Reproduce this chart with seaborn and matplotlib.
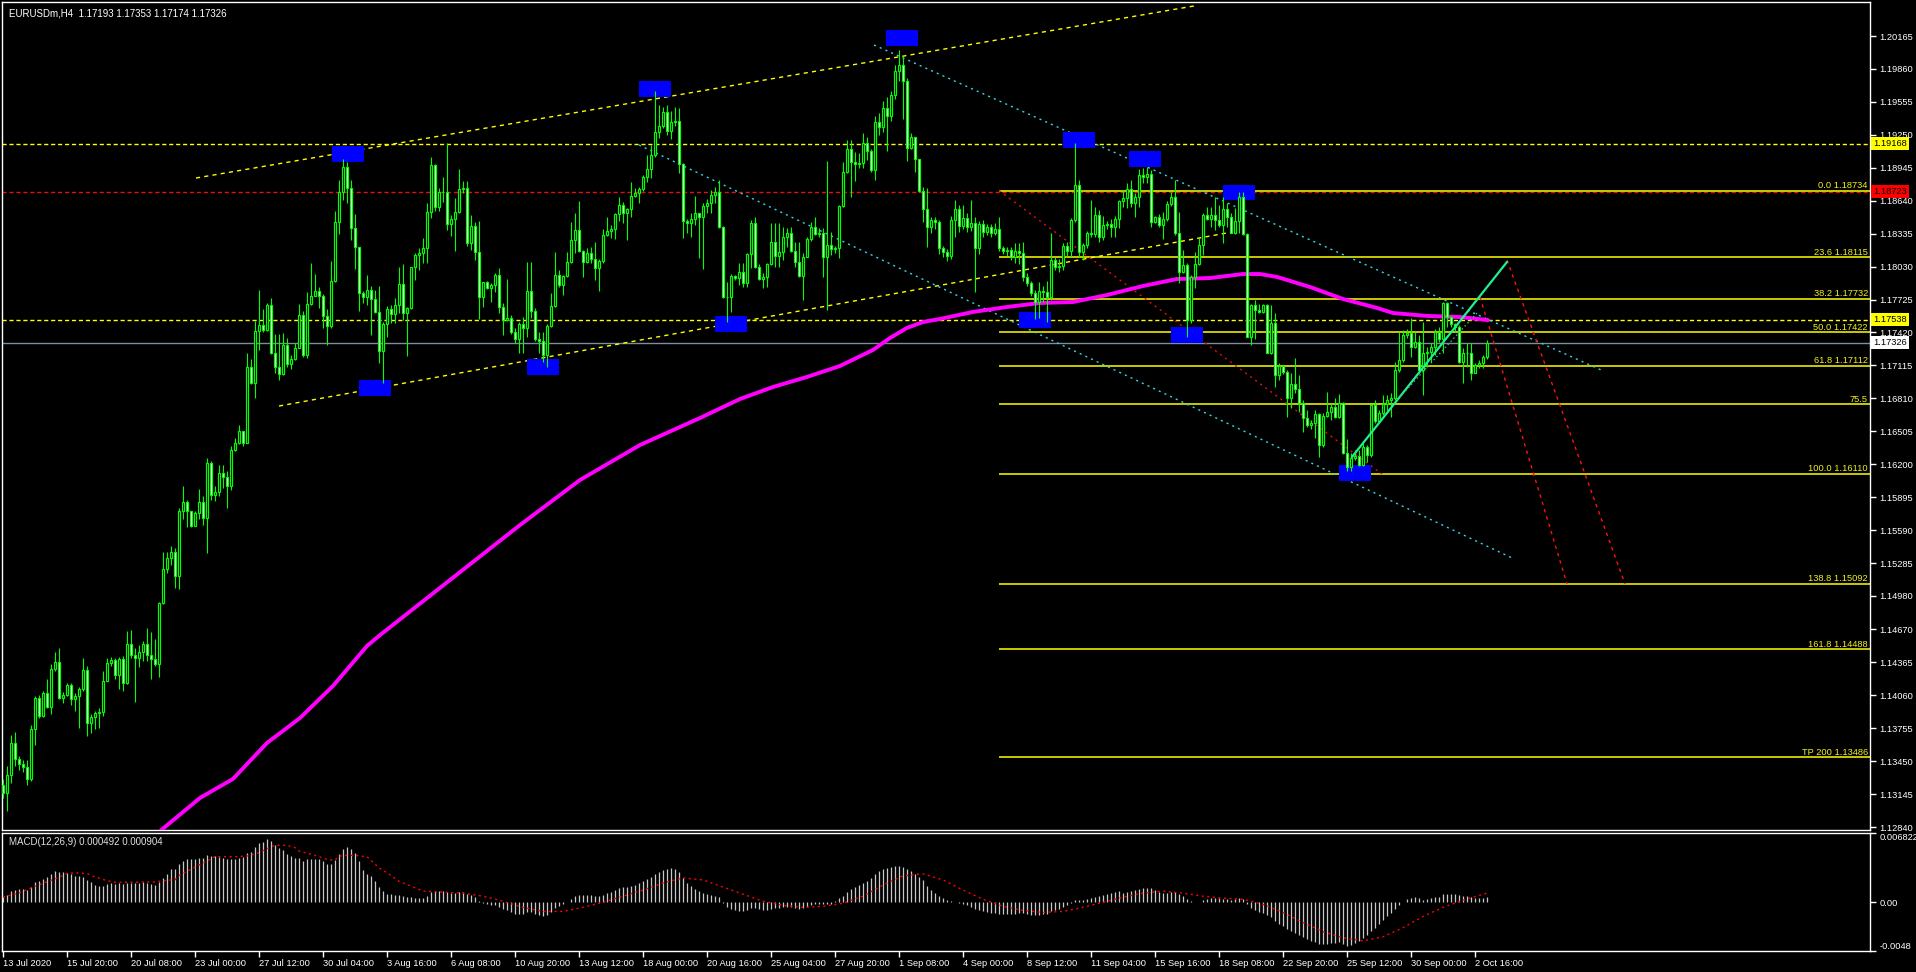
import numpy as np
import pandas as pd
import matplotlib
matplotlib.use('Agg')
import matplotlib.pyplot as plt
import matplotlib.transforms as mtrans
from matplotlib.patches import Rectangle
import seaborn as sns

sns.set_theme(style='dark')
plt.rcParams['font.family'] = ['Liberation Sans', 'DejaVu Sans']

# ---- data: prices in pips above 1.1000, one value per H4 bar ----
BASE = 1.1
first_open = 323.0
close = [
    315.3, 332.6, 361.5, 347.3, 342.7, 339.6, 328.8, 375.0, 403.9, 386.6,
    408.5, 395.0, 430.8, 436.6, 403.9, 406.6, 415.4, 402.7, 405.8, 411.6,
    429.7, 380.8, 385.8, 389.6, 390.4, 419.3, 435.8, 438.5, 425.0, 439.7,
    417.4, 453.9, 443.5, 440.5, 446.2, 453.9, 443.5, 439.7, 435.4, 491.3,
    523.2, 533.6, 538.6, 516.7, 576.4, 584.8, 576.4, 562.9, 575.2, 584.8,
    570.6, 621.4, 591.4, 594.5, 611.8, 607.9, 599.5, 633.0, 639.9, 650.3,
    639.5, 709.9, 695.3, 743.8, 749.2, 744.6, 767.7, 723.4, 709.9, 703.4,
    730.4, 713.0, 717.7, 728.0, 758.1, 721.5, 768.5, 776.2, 780.0, 776.2,
    757.3, 747.7, 790.0, 843.9, 872.4, 895.0, 875.5, 838.9, 821.6, 778.5,
    774.6, 781.2, 772.7, 760.8, 724.6, 749.9, 763.4, 759.1, 767.1, 786.6,
    760.4, 764.4, 802.3, 813.7, 815.9, 819.9, 853.9, 896.7, 858.5, 871.8,
    872.4, 842.1, 846.8, 853.2, 874.5, 875.5, 825.2, 840.6, 816.8, 774.5,
    788.7, 782.9, 785.7, 795.2, 765.3, 753.6, 755.1, 742.8, 735.7, 749.6,
    745.8, 780.4, 762.2, 735.7, 734.4, 721.2, 748.0, 766.5, 795.2, 785.9,
    794.3, 807.0, 827.6, 836.9, 817.7, 807.6, 815.9, 809.7, 801.4, 808.5,
    832.3, 836.0, 837.8, 851.7, 860.0, 852.3, 856.3, 868.4, 871.4, 874.5,
    885.6, 893.0, 906.3, 927.3, 933.2, 945.8, 928.8, 936.6, 937.5, 897.7,
    845.5, 843.0, 846.8, 852.9, 849.2, 859.1, 862.2, 869.3, 872.4, 840.0,
    774.5, 775.2, 794.3, 792.1, 797.7, 787.5, 814.4, 843.0, 802.3, 791.2,
    793.7, 805.4, 826.1, 812.8, 816.8, 830.1, 833.8, 817.7, 806.9, 794.6,
    812.2, 828.2, 839.9, 833.2, 833.8, 812.2, 823.0, 819.0, 820.5, 859.1,
    890.9, 911.9, 900.1, 897.7, 899.2, 917.1, 910.3, 892.4, 937.0, 932.5,
    950.0, 942.0, 962.0, 984.0, 990.0, 975.0, 912.5, 922.7, 902.3, 873.3,
    856.0, 839.3, 846.1, 844.6, 820.5, 816.8, 812.8, 846.1, 856.0, 840.6,
    847.7, 839.9, 843.0, 819.9, 842.4, 835.3, 839.9, 834.4, 837.5, 819.9,
    817.7, 818.3, 812.2, 817.7, 815.9, 793.7, 787.5, 778.2, 770.5, 780.7,
    779.8, 775.1, 809.1, 802.9, 803.5, 822.0, 817.4, 846.1, 878.2, 816.8,
    823.0, 833.8, 833.2, 850.7, 830.7, 841.5, 842.4, 840.0, 846.7, 864.0,
    866.2, 874.6, 861.6, 867.2, 888.0, 886.0, 889.0, 844.6, 849.3, 841.5,
    846.8, 861.0, 867.2, 833.8, 798.3, 804.5, 753.6, 793.7, 805.4, 823.0,
    850.8, 846.8, 850.8, 846.2, 841.5, 856.0, 849.3, 834.4, 845.6, 867.2,
    833.2, 738.2, 767.5, 763.0, 761.3, 767.5, 723.3, 751.1, 702.7, 711.0,
    705.8, 681.1, 694.3, 689.4, 677.1, 662.6, 656.4, 658.6, 666.6, 637.9,
    664.7, 668.7, 672.7, 664.1, 677.1, 630.1, 617.2, 625.5, 627.7, 619.4,
    636.3, 628.6, 674.9, 660.4, 667.2, 675.8, 679.5, 681.1, 707.3, 716.6,
    739.7, 741.9, 728.9, 733.5, 707.3, 722.7, 724.3, 728.9, 742.8, 735.7,
    769.0, 756.7, 749.9, 747.4, 715.0, 722.7, 723.3, 704.8, 711.9, 713.5,
    719.3, 732.6,
]
high = [
    328.8, 340.4, 369.2, 371.9, 350.0, 346.1, 346.1, 378.8, 405.8, 406.6,
    409.7, 421.2, 434.7, 446.2, 450.1, 408.9, 417.4, 417.4, 407.7, 413.5,
    440.5, 433.5, 388.5, 391.2, 394.2, 428.1, 440.5, 441.2, 440.5, 441.2,
    442.4, 465.5, 466.3, 450.1, 452.8, 456.6, 468.2, 464.3, 457.8, 492.4,
    538.6, 538.6, 544.4, 542.5, 579.1, 599.5, 586.7, 577.1, 577.1, 597.2,
    590.6, 626.0, 623.3, 600.2, 619.5, 619.5, 613.7, 636.8, 644.5, 656.0,
    650.3, 723.4, 717.7, 752.3, 781.2, 763.9, 768.9, 773.5, 740.7, 740.7,
    741.5, 736.9, 721.5, 731.9, 768.5, 761.9, 779.3, 806.2, 796.6, 783.9,
    777.3, 763.9, 808.1, 854.3, 883.2, 903.0, 900.0, 883.0, 851.6, 821.6,
    780.0, 795.4, 785.0, 781.2, 785.0, 752.0, 766.5, 767.4, 773.6, 802.9,
    805.1, 765.9, 802.9, 815.3, 820.5, 829.2, 862.2, 904.8, 898.0, 875.5,
    886.3, 917.1, 850.8, 866.2, 893.4, 882.2, 882.2, 850.8, 844.6, 845.2,
    789.0, 789.7, 787.5, 797.4, 801.4, 769.0, 791.2, 758.2, 745.8, 752.0,
    756.6, 807.0, 807.0, 764.4, 742.8, 742.8, 749.9, 778.3, 816.2, 799.9,
    795.2, 816.8, 844.6, 852.9, 863.7, 818.4, 819.9, 821.5, 826.1, 809.7,
    837.5, 849.2, 841.5, 852.3, 867.7, 863.1, 856.9, 881.6, 875.5, 877.0,
    887.8, 906.3, 915.6, 965.6, 952.6, 950.4, 952.6, 947.4, 950.4, 949.5,
    899.2, 846.8, 852.9, 868.4, 852.9, 862.2, 865.6, 873.9, 877.0, 883.2,
    840.6, 789.0, 796.2, 795.2, 806.7, 806.0, 815.3, 846.1, 849.2, 805.4,
    796.7, 806.0, 843.0, 843.0, 843.6, 839.3, 838.4, 839.3, 826.1, 826.1,
    815.3, 830.7, 844.6, 849.2, 838.4, 838.4, 900.7, 835.3, 822.0, 860.0,
    900.1, 920.2, 920.2, 909.4, 908.5, 926.4, 922.7, 911.5, 942.0, 945.0,
    956.0, 960.0, 966.0, 990.0, 1004.0, 998.0, 978.0, 926.4, 923.3, 903.0,
    877.0, 875.4, 849.2, 849.0, 846.1, 822.0, 819.0, 850.0, 864.6, 860.0,
    860.0, 853.0, 865.0, 849.0, 845.0, 846.0, 842.0, 842.0, 843.0, 848.6,
    822.0, 821.0, 821.0, 825.0, 825.0, 826.0, 797.0, 790.0, 781.0, 789.0,
    785.0, 790.0, 833.8, 812.0, 810.0, 825.0, 826.0, 848.0, 917.7, 883.2,
    825.0, 836.0, 864.6, 858.5, 855.0, 850.0, 845.0, 847.0, 850.0, 864.7,
    873.9, 880.1, 883.2, 870.9, 893.0, 894.0, 895.0, 892.0, 849.9, 852.0,
    853.9, 864.1, 872.4, 883.2, 853.9, 818.4, 806.1, 795.2, 816.9, 829.2,
    852.3, 858.5, 858.5, 867.8, 860.1, 867.2, 861.6, 852.3, 857.0, 872.4,
    872.4, 833.8, 768.4, 772.0, 768.4, 768.4, 768.4, 767.5, 759.8, 714.1,
    711.9, 707.3, 704.2, 718.1, 702.7, 679.5, 670.3, 661.0, 670.3, 667.2,
    667.8, 687.2, 676.4, 681.1, 685.1, 678.0, 643.1, 630.1, 633.2, 633.2,
    639.4, 637.9, 675.8, 679.5, 670.3, 684.2, 684.2, 685.7, 715.0, 742.8,
    744.3, 744.9, 755.1, 742.8, 739.7, 752.1, 728.9, 732.0, 744.9, 747.4,
    770.6, 770.6, 757.5, 751.1, 748.5, 727.4, 732.0, 732.0, 713.5, 716.6,
    721.2, 735.3,
]
low = [
    310.7, 298.8, 324.9, 340.4, 336.5, 334.6, 323.0, 326.9, 359.6, 385.4,
    385.8, 394.2, 388.5, 428.9, 402.7, 398.9, 405.8, 397.4, 391.2, 375.8,
    410.4, 368.5, 371.2, 375.0, 375.8, 386.6, 419.3, 433.5, 421.2, 411.6,
    410.4, 416.6, 440.5, 400.0, 432.0, 437.4, 437.4, 421.2, 433.5, 423.1,
    490.5, 519.4, 527.1, 505.1, 504.8, 569.4, 561.7, 561.7, 562.9, 569.4,
    563.6, 537.9, 586.7, 586.0, 590.6, 598.3, 579.8, 596.4, 632.2, 638.7,
    636.8, 647.6, 694.5, 681.1, 726.1, 742.7, 743.1, 722.3, 704.2, 698.4,
    702.3, 709.9, 708.0, 716.9, 727.3, 719.6, 718.4, 767.7, 775.4, 764.6,
    746.5, 730.0, 746.5, 788.9, 833.1, 865.0, 862.0, 827.4, 800.4, 761.9,
    769.6, 767.7, 740.0, 760.0, 713.8, 695.5, 737.5, 751.1, 750.5, 760.4,
    753.6, 720.5, 763.4, 790.6, 799.9, 806.0, 806.0, 847.7, 854.8, 854.8,
    862.5, 836.9, 831.6, 817.7, 852.3, 870.8, 822.1, 818.4, 809.1, 754.2,
    765.3, 781.9, 770.5, 779.8, 759.7, 739.7, 753.0, 740.6, 732.0, 722.7,
    722.7, 738.1, 755.1, 734.4, 722.7, 715.0, 710.4, 747.4, 765.3, 784.4,
    776.7, 793.7, 806.7, 815.3, 816.5, 793.1, 806.7, 806.0, 790.6, 780.7,
    806.0, 831.3, 829.2, 828.9, 845.5, 843.7, 827.6, 849.2, 867.7, 862.2,
    873.3, 881.6, 884.7, 904.2, 921.7, 931.0, 924.8, 920.8, 933.2, 889.3,
    829.2, 833.8, 830.7, 841.5, 810.6, 800.5, 852.3, 852.3, 861.6, 838.4,
    773.6, 752.0, 761.3, 790.6, 785.9, 784.4, 784.4, 801.4, 801.4, 790.6,
    782.9, 784.4, 804.5, 802.9, 802.9, 809.1, 821.4, 816.8, 802.9, 793.7,
    772.1, 811.6, 827.0, 832.2, 830.7, 793.7, 762.8, 813.7, 815.9, 810.6,
    858.5, 889.3, 867.1, 882.5, 894.0, 894.0, 901.7, 890.9, 883.2, 925.0,
    928.0, 910.0, 938.0, 958.0, 975.0, 940.0, 901.1, 911.5, 890.9, 872.0,
    844.6, 821.4, 833.8, 838.0, 815.0, 812.0, 808.0, 810.0, 830.0, 835.0,
    838.0, 835.0, 836.0, 779.8, 815.0, 830.0, 832.0, 830.0, 832.0, 817.0,
    815.0, 813.0, 809.0, 806.0, 805.0, 790.0, 785.0, 776.0, 754.2, 755.0,
    770.0, 752.0, 772.0, 800.0, 798.0, 800.0, 813.0, 812.0, 844.0, 812.0,
    809.1, 820.0, 830.0, 830.0, 826.0, 828.0, 838.0, 830.0, 830.0, 838.4,
    858.5, 857.0, 858.5, 849.3, 858.5, 880.0, 880.0, 840.0, 843.1, 840.0,
    828.3, 845.6, 859.1, 832.3, 787.5, 796.8, 737.5, 751.1, 782.9, 804.5,
    813.8, 846.2, 840.0, 836.9, 840.0, 825.2, 840.0, 833.8, 833.0, 833.8,
    832.3, 737.5, 730.4, 736.0, 759.8, 759.8, 722.7, 722.1, 691.9, 698.0,
    703.6, 664.1, 671.8, 685.7, 668.7, 650.2, 654.8, 652.4, 644.0, 627.1,
    636.3, 664.1, 661.0, 662.6, 662.6, 629.5, 614.1, 614.1, 624.0, 618.5,
    618.0, 622.4, 627.1, 657.9, 659.5, 665.6, 667.2, 664.1, 679.5, 705.8,
    715.0, 736.6, 719.6, 727.4, 704.2, 684.2, 710.4, 715.0, 721.2, 733.5,
    722.7, 747.4, 747.4, 742.8, 714.1, 694.9, 710.4, 698.0, 704.2, 708.8,
    708.8, 717.4,
]

# MACD main (histogram), pips, one per bar
macd_hist = [
    5.1, 7.4, 11.4, 12.4, 13.4, 13.4, 11.8, 14.7, 19.7, 21.3,
    23.0, 25.0, 28.3, 30.6, 30.0, 29.6, 29.0, 28.0, 26.3, 25.7,
    25.0, 22.3, 19.7, 17.4, 15.7, 15.7, 18.0, 19.0, 18.4, 19.0,
    18.0, 19.0, 19.0, 19.0, 19.0, 19.7, 19.0, 18.0, 17.4, 19.7,
    24.0, 28.3, 32.3, 32.3, 37.2, 40.5, 42.9, 42.9, 42.9, 43.9,
    43.9, 46.2, 45.5, 45.5, 44.9, 43.9, 42.2, 42.9, 42.9, 43.9,
    44.5, 48.2, 49.5, 54.8, 58.1, 59.7, 62.1, 60.4, 56.1, 53.1,
    51.5, 47.8, 45.5, 43.9, 43.9, 40.5, 42.2, 42.9, 42.9, 42.2,
    40.5, 37.9, 37.2, 41.2, 47.2, 52.8, 54.4, 52.8, 48.8, 40.5,
    31.3, 28.3, 25.7, 21.3, 14.7, 10.8, 8.4, 8.1, 7.4, 6.8,
    6, 5, 5, 4, 4, 4, 6, 10, 11, 11,
    11, 10, 9, 9, 10, 10, 8, 7, 5, 1,
    -1, -2, -3, -3, -5, -7, -8, -10, -12, -12,
    -12, -10, -10, -12, -13, -14, -13, -10, -6, -4,
    -2, 0, 3, 6, 7, 7, 7, 7, 6, 6,
    7, 9, 10, 12, 14, 15, 15, 16, 17, 19,
    21, 23, 25, 28, 30, 32, 33, 34, 33, 30,
    24, 19, 16, 13, 11, 9, 8, 7, 6, 5,
    -1, -5, -7, -8, -9, -9, -8, -6, -6, -7,
    -8, -8, -7, -6, -6, -5, -5, -5, -6, -7,
    -6, -5, -3, -2, -2, -2, -2, -2, 1, 4,
    6, 10, 13, 15, 17, 19, 21, 24, 28, 31,
    33, 34, 35, 36, 36, 35, 33, 31, 28, 25,
    22, 16, 12, 9, 6, 4, 2, 1, 0, -1,
    -2, -3, -5, -7, -8, -9, -10, -11, -11, -12,
    -12, -12, -12, -12, -11, -11, -12, -13, -13, -13,
    -12, -12, -9, -8, -7, -5, -3, -1, 2, 2,
    2, 3, 4, 5, 6, 7, 8, 9, 10, 11,
    9, 10, 11, 12, 13, 14, 14, 14, 12, 10,
    9, 9, 10, 10, 8, 6, 3, 1, 0, 0,
    2, 3, 4, 4, 4, 3, 3, 2, 3, 4,
    3, -2, -6, -8, -10, -11, -13, -15, -18, -21,
    -23, -26, -28, -30, -32, -34, -36, -38, -39, -41,
    -41, -41, -40, -40, -39, -41, -43, -42, -40, -38,
    -35, -32, -28, -25, -21, -17, -14, -11, -7, -3,
    0, 3, 4, 5, 4, 2, 3, 4, 5, 5,
    8, 8, 8, 8, 7, 6, 6, 5, 4, 4,
    4, 4.9,
]
# MACD signal line, read at sample bars (pips)
sig_bar = [0, 4, 8, 13, 16, 18, 21, 23, 26, 28, 33, 38, 39, 43, 44, 48, 51, 53, 58, 61,
           64, 66, 68, 71, 73, 74, 78, 81, 83, 84, 86, 88, 91, 94, 96, 99, 105, 110, 115,
           120, 125, 130, 135, 140, 145, 150, 155, 160, 165, 170, 175, 180, 185, 190, 195,
           200, 205, 210, 215, 220, 225, 230, 235, 240, 245, 250, 255, 260, 265, 270, 275,
           280, 285, 290, 295, 300, 305, 310, 315, 320, 325, 330, 335, 340, 345, 350, 355,
           360, 365, 371]
sig_val = [5.1, 9.1, 15.7, 23.0, 28.3, 29.0, 28.3, 25.0, 21.3, 19.7, 19.7, 20.0, 20.7, 22.3,
           26.3, 34.6, 40.5, 44.9, 44.9, 45.5, 48.8, 52.8, 56.1, 56.1, 53.8, 50.5, 46.2, 42.2,
           41.5, 45.5, 46.2, 46.2, 44.9, 33.9, 29.0, 20.7, 11, 10, 9, 6, 1, -5, -9, -9, -5, 0,
           6, 12, 19, 24, 22, 15, 8, 1, -3, -5, -4, -1, 6, 17, 26, 28, 22, 12, 3, -4, -8, -10,
           -9, -5, 0, 5, 9, 11, 9, 6, 4, 3, -2, -10, -20, -29, -35, -38, -34, -25, -14, -5, 2,
           9.0]

# moving average, read at sample bars (price)
ma_bar = [36, 39, 49.25, 57.5, 66, 74.25, 82.5, 91, 94.25, 111.75, 129.25, 144.25, 159.25,
          174.25, 184.25, 192.5, 201, 209.25, 217.5, 221.75, 226, 230, 234.25, 242.5, 251,
          259.25, 267.5, 276, 285, 293.5, 301.75, 310, 314.25, 318.5, 326.75, 335, 343.5,
          347.5, 356, 364.25, 371.25]
ma_price = [1.12700, 1.12795, 1.13110, 1.13286, 1.13619, 1.13850, 1.14147, 1.14517, 1.14618,
            1.15128, 1.15637, 1.16054, 1.16378, 1.16628, 1.16804, 1.16915, 1.17008, 1.17110,
            1.17258, 1.17369, 1.17462, 1.17517, 1.17545, 1.17610, 1.17656, 1.17693, 1.17702,
            1.17767, 1.17850, 1.17915, 1.17924, 1.17961, 1.17961, 1.17934, 1.17841, 1.17730,
            1.17647, 1.17600, 1.17573, 1.17563, 1.17535]

date_labels = ['13 Jul 2020', '15 Jul 20:00', '20 Jul 08:00', '23 Jul 00:00', '27 Jul 12:00',
               '30 Jul 04:00', '3 Aug 16:00', '6 Aug 08:00', '10 Aug 20:00', '13 Aug 12:00',
               '18 Aug 00:00', '20 Aug 16:00', '25 Aug 04:00', '27 Aug 20:00', '1 Sep 08:00',
               '4 Sep 00:00', '8 Sep 12:00', '11 Sep 04:00', '15 Sep 16:00', '18 Sep 08:00',
               '22 Sep 20:00', '25 Sep 12:00', '30 Sep 00:00', '2 Oct 16:00']
price_ticks = [1.20165, 1.19860, 1.19555, 1.19250, 1.18945, 1.18640, 1.18335, 1.18030,
               1.17725, 1.17420, 1.17115, 1.16810, 1.16505, 1.16200, 1.15895, 1.15590,
               1.15285, 1.14980, 1.14670, 1.14365, 1.14060, 1.13755, 1.13450, 1.13145, 1.12840]

fib_start = 249
fib_prices = [1.18734, 1.18115, 1.17732, 1.17422, 1.17112, 1.16753, 1.16110, 1.15092, 1.14488, 1.13486]
fib_labels = ['0.0 1.18734', '23.6 1.18115', '38.2 1.17732', '50.0 1.17422', '61.8 1.17112',
              '75.5', '100.0 1.16110', '138.8 1.15092', '161.8 1.14488', 'TP 200 1.13486']

box_bar = [86.25, 163, 224.75, 268.9, 285.5, 309, 93, 135, 182, 258, 296, 338]
box_price = [1.19073, 1.19670, 1.20147, 1.19198, 1.19026, 1.18716,
             1.16906, 1.17100, 1.17499, 1.17535, 1.17392, 1.16119]

# trend lines: bar0, price0, bar1, price1
yellow_lines = [(48.25, 1.18850, 297.75, 1.20443), (69, 1.16739, 307.25, 1.18350)]
cyan_lines = [(217.75, 1.20082, 399.5, 1.17073), (159, 1.19156, 377.25, 1.15332)]
red_lines = [(376, 1.18091, 405.5, 1.15092), (369.25, 1.17748, 391, 1.15092)]
fib_trend = (249, 1.18734, 344.75, 1.16110)
green_line = (337.25, 1.16267, 376, 1.18073)
green_dotted = (348.5, 1.16795, 368.75, 1.17610)

# ---- build frame ----
n = len(close)
c = BASE + np.array(close) / 1e4
o = np.r_[BASE + first_open / 1e4, c[:-1]]
df = pd.DataFrame({'bar': np.arange(n), 'open': o, 'close': c,
                   'high': BASE + np.array(high) / 1e4, 'low': BASE + np.array(low) / 1e4,
                   'macd': np.array(macd_hist) / 1e4})

FS = 6.7
W, H = 1916, 972
fig = plt.figure(figsize=(W / 100, H / 100), dpi=100, facecolor='black')
ax = fig.add_axes([2 / W, 1 - 830 / H, 1868 / W, 828 / H])
ax2 = fig.add_axes([2 / W, 1 - 951 / H, 1868 / W, 118 / H])

xlim = (-0.25, 466.75)
for a in (ax, ax2):
    a.set_facecolor('black')
    a.set_xlim(*xlim)
    a.grid(False)
    for s in a.spines.values():
        s.set_color('white')
        s.set_linewidth(1)
ax.set_ylim(1.12813, 1.20480)
ax2.set_ylim(-0.0048, 0.006822)

# horizontal levels
ax.axhline(1.19168, color='#FFFF00', lw=1, dashes=(3, 2), zorder=1)
ax.axhline(1.18723, color='#E01010', lw=1, dashes=(3, 2), zorder=1)
ax.axhline(1.17538, color='#FFFF00', lw=1, dashes=(3, 2), zorder=1)
ax.axhline(1.17326, color='#7F8C99', lw=1, zorder=1)
ax.hlines(fib_prices, fib_start, xlim[1], color='#FFFF00', lw=1.1, zorder=1)

btr = mtrans.blended_transform_factory(ax.transAxes, ax.transData)
for p, lab in zip(fib_prices, fib_labels):
    ax.text(0.9988, p + 0.00005, lab, transform=btr, ha='right', va='bottom',
            color='#F0F020', fontsize=FS)

# markers
for b, p in zip(box_bar, box_price):
    ax.add_patch(Rectangle((b - 4, p - 0.00074), 8, 0.00148, color='#0000FF', lw=0, zorder=2))

# trend lines
for b0, p0, b1, p1 in yellow_lines:
    ax.plot([b0, b1], [p0, p1], color='#FFFF00', lw=1, dashes=(3, 3), zorder=1)
for b0, p0, b1, p1 in cyan_lines:
    ax.plot([b0, b1], [p0, p1], color='#30D8E8', lw=1, dashes=(1.5, 3), zorder=1)
for b0, p0, b1, p1 in red_lines:
    ax.plot([b0, b1], [p0, p1], color='#FF1010', lw=1, dashes=(2.5, 3), zorder=1)
ax.plot(fib_trend[0::2], fib_trend[1::2], color='#E01010', lw=1, dashes=(1.5, 3), zorder=1)
ax.plot(green_line[0::2], green_line[1::2], color='#20F090', lw=1.6, zorder=6)
ax.plot(green_dotted[0::2], green_dotted[1::2], color='#40C080', lw=1, dashes=(1, 2), zorder=6)

# moving average
sns.lineplot(x=ma_bar, y=ma_price, ax=ax, color='#FF00FF', linewidth=2.8, sort=False,
             estimator=None, zorder=3)

# candles
ax.vlines(df['bar'], df['low'], df['high'], color='#00FF00', lw=0.8, zorder=4)
bull = df['close'] >= df['open']
ax.bar(df['bar'], (df['close'] - df['open']).abs(), bottom=df[['open', 'close']].min(axis=1),
       width=0.6, color=np.where(bull, 'black', 'white'), edgecolor='#00FF00',
       linewidth=0.85, zorder=5)

# price axis
ax.yaxis.tick_right()
ax.set_yticks(price_ticks)
ax.set_yticklabels([f'{v:.5f}' for v in price_ticks])
ax.tick_params(axis='y', colors='white', length=4, width=1, pad=3, labelsize=FS,
               right=True, left=False, direction='out')
ax.set_xticks([])
ax.set_ylabel('')
ax.set_xlabel('')

for p, fc, lab in [(1.19168, '#FFFF00', '1.19168'), (1.18723, '#FF0000', '1.18723'),
                   (1.17538, '#FFFF00', '1.17538'), (1.17326, '#FFFFFF', '1.17326')]:
    ax.text(1.0018, p, lab, transform=btr, ha='left', va='center', color='black',
            fontsize=FS, zorder=10, clip_on=False,
            bbox=dict(boxstyle='square,pad=0.22', fc=fc, ec='none'))

ax.text(7 / 1868, 1 - 6 / 828, 'EURUSDm,H4  1.17193 1.17353 1.17174 1.17326',
        transform=ax.transAxes, ha='left', va='top', color='white', fontsize=7.0)

# MACD panel
ax2.vlines(df['bar'], 0, df['macd'], color='#C8C8C8', lw=0.9, zorder=2)
ax2.plot(sig_bar, np.array(sig_val) / 1e4, color='#FF0000', lw=1, dashes=(1.5, 2.5), zorder=3)
ax2.yaxis.tick_right()
ax2.set_yticks([0.006822, 0.0, -0.0048])
ax2.set_yticklabels(['0.006822', '0.00', '-0.0048'])
ax2.tick_params(axis='y', colors='white', length=4, width=1, pad=3, labelsize=FS,
                right=True, left=False)
ylabs = ax2.get_yticklabels()
ylabs[0].set_va('top')
ylabs[2].set_va('bottom')
ax2.set_xticks(np.arange(0, 16 * len(date_labels), 16))
ax2.set_xticklabels(date_labels)
ax2.tick_params(axis='x', colors='white', length=4, width=1, pad=2, labelsize=FS,
                bottom=True, direction='out')
for t in ax2.get_xticklabels():
    t.set_ha('left')
ax2.text(7 / 1868, 1 - 4 / 118, 'MACD(12,26,9) 0.000492 0.000904', transform=ax2.transAxes,
         ha='left', va='top', color='#E0E0E0', fontsize=7.0)

fig.savefig('out.png', dpi=100, facecolor='black')
